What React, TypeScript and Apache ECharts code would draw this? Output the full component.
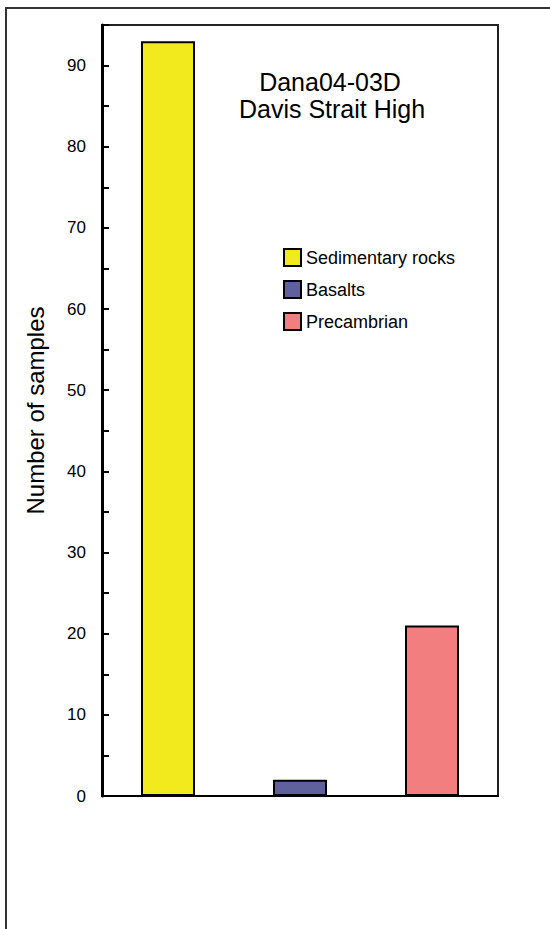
import React, { useEffect, useRef } from "react";
import * as echarts from "echarts";

const categories = ["Sedimentary rocks", "Basalts", "Precambrian"];
const seriesNames = ["Sedimentary rocks", "Basalts", "Precambrian"];
const sampleCounts = [93, 2, 21];
const barColors = ["#F2EA1C", "#60609C", "#F37E80"];
const titleLines = ["Dana04-03D", "Davis Strait High"];
const yAxisName = "Number of samples";

const FONT = "'Liberation Sans', Arial, Helvetica, sans-serif";

export default function App() {
  const ref = useRef<HTMLDivElement>(null);
  useEffect(() => {
    if (!ref.current) return;
    const chart = echarts.init(ref.current, null, { renderer: "svg" });
    const series = seriesNames.map((name, i) => ({
      name,
      type: "bar",
      barWidth: 54,
      barGap: "-100%",
      data: categories.map((_, j) => (j === i ? sampleCounts[i] : "-")),
      itemStyle: { color: barColors[i], borderColor: "#000", borderWidth: 2 },
    }));
    chart.setOption({
      animation: false,
      backgroundColor: "#fff",
      grid: {
        left: 102,
        right: 52,
        top: 25,
        bottom: 133,
        show: true,
        borderColor: "#222",
        borderWidth: 2,
        containLabel: false,
      },
      legend: {
        orient: "vertical",
        left: 283,
        top: 248,
        itemWidth: 17,
        itemHeight: 17,
        itemGap: 13,
        icon: "rect",
        padding: 0,
        textStyle: { fontSize: 18, color: "#000", fontFamily: FONT },
        data: seriesNames,
      },
      xAxis: {
        type: "category",
        data: categories,
        axisLine: { lineStyle: { color: "#000", width: 2 } },
        axisTick: { show: false },
        axisLabel: { show: false },
      },
      yAxis: {
        type: "value",
        min: 0,
        max: 95,
        interval: 5,
        name: yAxisName,
        nameLocation: "middle",
        nameGap: 55,
        nameTextStyle: { fontSize: 24, color: "#000", fontFamily: FONT },
        axisLine: { show: true, lineStyle: { color: "#000", width: 3 } },
        axisTick: { show: true, inside: true, length: 7, lineStyle: { color: "#000", width: 2 } },
        splitLine: { show: false },
        axisLabel: {
          fontSize: 17,
          color: "#000",
          fontFamily: FONT,
          margin: 16,
          formatter: (v: number) => (v % 10 === 0 && v <= 90 ? String(v) : ""),
        },
      },
      graphic: [
        {
          type: "polyline",
          shape: { points: [[6, 929], [6, 8], [550, 8]] },
          style: { stroke: "#333", lineWidth: 2, fill: null },
          silent: true,
        },
        {
          type: "text",
          x: 330,
          y: 81.5,
          style: {
            text: titleLines[0],
            fontSize: 25,
            fontFamily: FONT,
            fill: "#000",
            textAlign: "center",
            textVerticalAlign: "middle",
          },
        },
        {
          type: "text",
          x: 332,
          y: 109,
          style: {
            text: titleLines[1],
            fontSize: 25,
            fontFamily: FONT,
            fill: "#000",
            textAlign: "center",
            textVerticalAlign: "middle",
          },
        },
      ],
      series,
    });
    return () => chart.dispose();
  }, []);
  return <div ref={ref} style={{ width: 550, height: 929, position: "absolute", left: 0, top: 0 }} />;
}
